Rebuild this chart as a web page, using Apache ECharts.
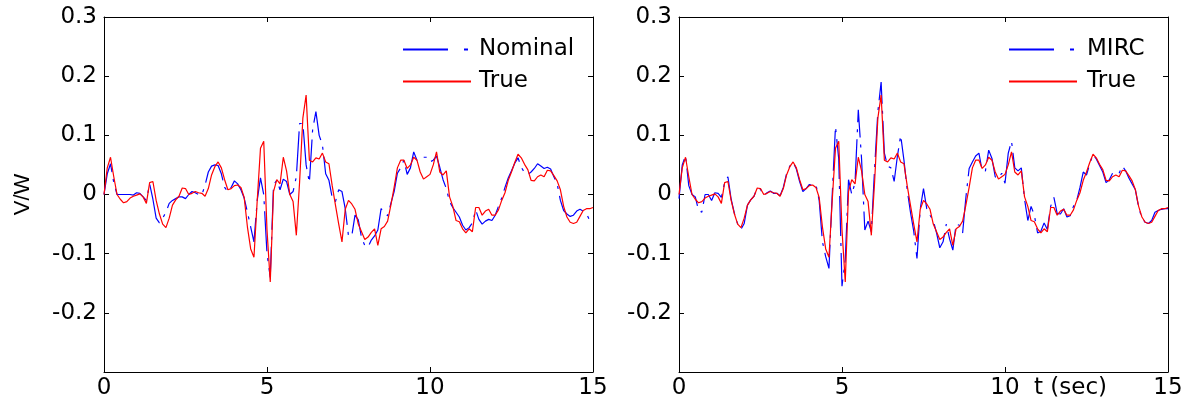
<!DOCTYPE html>
<html>
<head>
<meta charset="utf-8">
<script src="https://cdn.jsdelivr.net/npm/echarts@6/dist/echarts.min.js"></script>
<style>
  html, body { margin: 0; padding: 0; background: #fff; }
  #main { width: 1189px; height: 413px; }
</style>
</head>
<body>
<div id="main"></div>
<script>
// samples every 0.1 s, t = 0 .. 15 s
const dt = 0.1;

const trueVals = [
  0.000, 0.045, 0.063, 0.030, 0.000, -0.008, -0.014, -0.012, -0.006, -0.003,
  -0.001, 0.001, -0.004, -0.015, 0.020, 0.022, -0.010, -0.033, -0.050, -0.056,
  -0.040, -0.018, -0.009, -0.003, 0.011, 0.010, 0.000, 0.002, 0.005, 0.003,
  0.002, -0.003, 0.010, 0.033, 0.047, 0.055, 0.045, 0.025, 0.008, 0.010,
  0.015, 0.016, 0.012, -0.005, -0.055, -0.092, -0.106, -0.010, 0.078, 0.090,
  -0.060, -0.148, 0.005, 0.025, 0.018, 0.063, 0.040, 0.000, -0.012, -0.069,
  0.021, 0.129, 0.168, 0.058, 0.055, 0.062, 0.060, 0.070, 0.055, 0.052,
  0.015, -0.018, -0.050, -0.080, -0.025, -0.010, -0.016, -0.025, -0.050, -0.063,
  -0.076, -0.072, -0.064, -0.058, -0.086, -0.058, -0.054, -0.045, -0.018, 0.012,
  0.045, 0.058, 0.058, 0.044, 0.050, 0.063, 0.058, 0.038, 0.026, 0.030,
  0.034, 0.050, 0.072, 0.038, 0.033, 0.040, -0.004, -0.020, -0.044, -0.046,
  -0.058, -0.065, -0.058, -0.063, -0.022, -0.022, -0.035, -0.028, -0.025, -0.035,
  -0.035, -0.026, -0.010, 0.003, 0.024, 0.038, 0.054, 0.068, 0.062, 0.051,
  0.042, 0.024, 0.023, 0.030, 0.033, 0.030, 0.041, 0.040, 0.032, 0.023,
  0.008, -0.020, -0.038, -0.047, -0.049, -0.047, -0.037, -0.027, -0.024, -0.024,
  -0.022
];

const nominalVals = [
  0.000, 0.035, 0.052, 0.020, 0.000, 0.000, 0.000, 0.000, 0.000, -0.001,
  0.003, 0.002, -0.004, -0.010, 0.018, -0.008, -0.040, -0.048, -0.040, -0.030,
  -0.015, -0.010, -0.007, -0.004, -0.004, -0.007, 0.000, 0.005, 0.003, 0.000,
  -0.001, 0.016, 0.038, 0.048, 0.050, 0.049, 0.035, 0.012, 0.005, 0.012,
  0.023, 0.018, 0.008, -0.006, -0.030, -0.055, -0.080, -0.010, 0.028, 0.000,
  -0.100, -0.140, 0.016, 0.024, 0.008, 0.026, 0.022, 0.000, 0.005, 0.030,
  0.120, 0.120, 0.050, 0.020, 0.110, 0.140, 0.100, 0.084, 0.035, 0.024,
  -0.005, -0.012, 0.008, 0.005, -0.024, -0.070, -0.070, -0.035, -0.043, -0.073,
  -0.086, -0.089, -0.077, -0.070, -0.060, -0.024, -0.030, -0.036, -0.015, 0.005,
  0.036, 0.045, 0.058, 0.034, 0.045, 0.072, 0.058, 0.061, 0.063, 0.063,
  0.055, 0.058, 0.065, 0.046, 0.025, 0.010, -0.012, -0.022, -0.030, -0.038,
  -0.052, -0.060, -0.056, -0.048, -0.026, -0.042, -0.050, -0.045, -0.042, -0.044,
  -0.035, -0.020, -0.006, 0.012, 0.028, 0.040, 0.053, 0.062, 0.046, 0.037,
  0.034, 0.038, 0.044, 0.052, 0.048, 0.044, 0.046, 0.043, 0.030, 0.018,
  -0.010, -0.027, -0.033, -0.037, -0.035, -0.028, -0.025, -0.028, -0.032, -0.044,
  -0.041
];

const mircVals = [
  -0.007, 0.050, 0.066, 0.015, 0.000, -0.004, -0.027, -0.030, 0.000, 0.000,
  -0.010, 0.003, 0.002, -0.005, 0.020, 0.030, -0.008, -0.032, -0.050, -0.059,
  -0.049, -0.018, -0.009, -0.003, 0.011, 0.009, -0.002, 0.003, 0.006, 0.002,
  0.002, -0.002, 0.012, 0.035, 0.048, 0.055, 0.043, 0.022, 0.005, 0.010,
  0.017, 0.015, 0.017, -0.010, -0.080, -0.105, -0.125, 0.000, 0.115, 0.060,
  -0.155, -0.110, 0.025, 0.000, 0.020, 0.143, 0.060, -0.060, -0.045, -0.063,
  0.044, 0.140, 0.190, 0.070, 0.048, 0.045, 0.022, 0.065, 0.100, 0.058,
  0.008, -0.030, -0.062, -0.108, -0.024, 0.010, -0.024, -0.035, -0.044, -0.065,
  -0.090, -0.080, -0.050, -0.075, -0.094, -0.050, -0.052, -0.065, -0.005, 0.044,
  0.055, 0.065, 0.070, 0.040, 0.040, 0.075, 0.061, 0.030, 0.027, 0.036,
  0.019, 0.070, 0.090, 0.045, 0.040, 0.045, -0.008, -0.044, -0.020, -0.035,
  -0.065, -0.062, -0.048, -0.059, -0.020, -0.005, -0.032, -0.033, -0.024, -0.038,
  -0.036, -0.020, -0.010, 0.012, 0.038, 0.033, 0.052, 0.068, 0.060, 0.049,
  0.038, 0.020, 0.025, 0.036, 0.034, 0.036, 0.048, 0.040, 0.028, 0.018,
  0.008, -0.022, -0.040, -0.047, -0.049, -0.044, -0.030, -0.027, -0.025, -0.024,
  -0.024
];

const xRange = [0, 15];
const yRange = [-0.3, 0.3];

const FONT = 'DejaVu Sans';
const BLUE = '#0000ff';
const RED = '#ff0000';
const DASHDOT = [40, 7, 3, 7];        // plotted dash-dot
const DASHDOT_LEGEND = [45, 16, 4, 16];

function pairs(vals) {
  return vals.map((v, i) => [Math.round(i * dt * 10) / 10, v]);
}

function yLabel(v) {
  if (Math.abs(v - yRange[0]) < 1e-6) return ''; // bottom label is not printed
  return String(Math.round(v * 10) / 10);
}

const chart = echarts.init(document.getElementById('main'));

const grids = [
  { left: 104, top: 17, width: 489, height: 355 },
  { left: 679, top: 17, width: 489, height: 355 }
];

const xAxes = [];
const yAxes = [];
grids.forEach((g, gi) => {
  // bottom and top (tick only) x axes
  xAxes.push({
    type: 'value', gridIndex: gi, min: xRange[0], max: xRange[1], interval: 5,
    axisLine: { show: true, onZero: false, lineStyle: { color: '#000', width: 1 } },
    axisTick: { inside: true, length: 5, lineStyle: { color: '#000' } },
    axisLabel: { color: '#000', fontSize: 23, fontFamily: FONT, margin: 5 },
    splitLine: { show: false }
  });
  xAxes.push({
    type: 'value', gridIndex: gi, position: 'top', min: xRange[0], max: xRange[1], interval: 5,
    axisLine: { show: true, onZero: false, lineStyle: { color: '#000', width: 1 } },
    axisTick: { inside: true, length: 5, lineStyle: { color: '#000' } },
    axisLabel: { show: false },
    splitLine: { show: false }
  });
  yAxes.push({
    type: 'value', gridIndex: gi, min: yRange[0], max: yRange[1], interval: 0.1,
    name: gi === 0 ? 'V/W' : '',
    nameLocation: 'middle', nameGap: 70, nameRotate: 90,
    nameTextStyle: { color: '#000', fontSize: 22, fontFamily: 'Liberation Sans' },
    axisLine: { show: true, onZero: false, lineStyle: { color: '#000', width: 1 } },
    axisTick: { inside: true, length: 5, lineStyle: { color: '#000' } },
    axisLabel: { color: '#000', fontSize: 23, fontFamily: FONT, margin: 7, formatter: yLabel },
    splitLine: { show: false }
  });
  yAxes.push({
    type: 'value', gridIndex: gi, position: 'right', min: yRange[0], max: yRange[1], interval: 0.1,
    axisLine: { show: true, onZero: false, lineStyle: { color: '#000', width: 1 } },
    axisTick: { inside: true, length: 5, lineStyle: { color: '#000' } },
    axisLabel: { show: false },
    splitLine: { show: false }
  });
});

function lineSeries(name, vals, gi, color, dashed) {
  return {
    name: name, type: 'line', xAxisIndex: gi * 2, yAxisIndex: gi * 2,
    data: pairs(vals), symbol: 'none', animation: false,
    lineStyle: { color: color, width: 1.2, type: dashed ? DASHDOT : 'solid' },
    itemStyle: { color: color }
  };
}

const legendBase = {
  orient: 'vertical', top: 38, padding: 0, itemWidth: 68, itemHeight: 14, itemGap: 9,
  selectedMode: false,
  itemStyle: { color: 'rgba(0,0,0,0)', borderColor: 'rgba(0,0,0,0)', borderWidth: 0, opacity: 0 },
  textStyle: { color: '#000', fontSize: 23, fontFamily: FONT, lineHeight: 22 }
};

chart.setOption({
  backgroundColor: '#fff',
  animation: false,
  grid: grids,
  xAxis: xAxes,
  yAxis: yAxes,
  legend: [
    Object.assign({}, legendBase, {
      left: 402,
      data: [{ name: 'Nominal', lineStyle: { type: DASHDOT_LEGEND } }, { name: 'True' }],
      textStyle: Object.assign({}, legendBase.textStyle, { padding: [0, 0, 0, 3] })
    }),
    Object.assign({}, legendBase, {
      left: 1008,
      data: [{ name: 'MIRC', lineStyle: { type: DASHDOT_LEGEND } }, { name: 'True' }],
      textStyle: Object.assign({}, legendBase.textStyle, { padding: [0, 0, 0, 5] })
    })
  ],
  graphic: [{
    type: 'text', left: 1034, top: 377,
    style: { text: 't (sec)', fill: '#000', font: '23px "DejaVu Sans"' }
  }],
  series: [
    lineSeries('Nominal', nominalVals, 0, BLUE, true),
    lineSeries('True', trueVals, 0, RED, false),
    lineSeries('MIRC', mircVals, 1, BLUE, true),
    lineSeries('True', trueVals, 1, RED, false)
  ]
});
</script>
</body>
</html>
